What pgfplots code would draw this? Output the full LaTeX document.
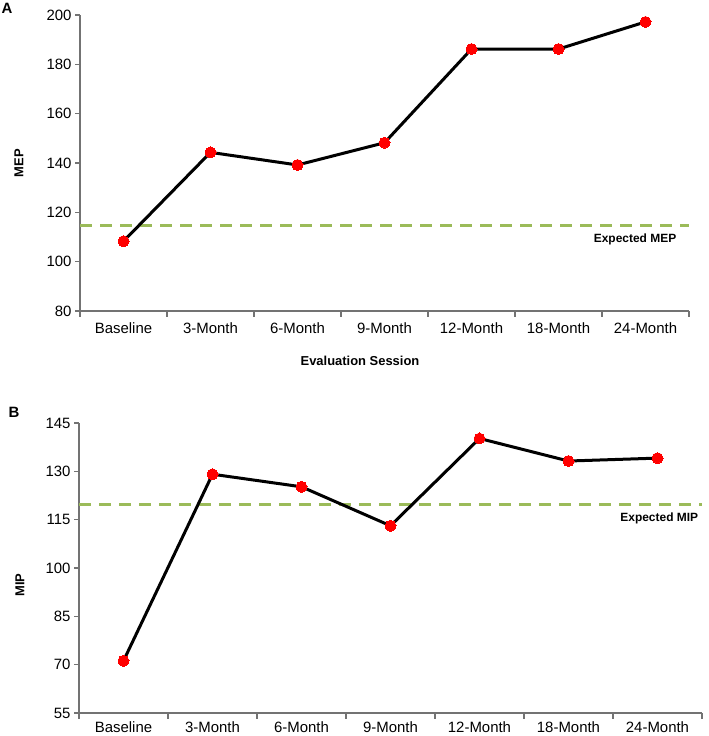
\documentclass[border=0pt]{standalone}
\usepackage{fontspec}
\setmainfont{Liberation Sans}
\usepackage{pgfplots}
\pgfplotsset{compat=1.18}
\definecolor{axgray}{rgb}{0.45,0.45,0.45}
\definecolor{expgreen}{HTML}{9BBB59}
\definecolor{ptred}{HTML}{FF0000}
\pgfplotsset{
  panel/.style={
    scale only axis,
    xmin=-0.5, xmax=6.5,
    xtick={0,...,6},
    xticklabels={Baseline,3-Month,6-Month,9-Month,12-Month,18-Month,24-Month},
    minor xtick={-0.5,0.5,...,6.5},
    axis x line*=bottom, axis y line*=left,
    axis line style={axgray, line width=1.1bp, -},
    tick style={axgray, line width=1.1bp},
    major x tick style={draw=none},
    minor tick length=6bp,
    major tick length=5bp,
    tick align=outside,
    tick label style={font=\fontsize{15}{17}\selectfont},
    /pgf/number format/assume math mode=true,
    clip=false,
  },
  dataline/.style={black, line width=3bp, mark=*, mark size=5.5bp,
    mark options={fill=ptred, draw=ptred, line width=0bp}},
  expline/.style={expgreen, line width=3bp, dash pattern=on 12bp off 8bp},
}
\begin{document}
\begin{tikzpicture}
\path[use as bounding box] (0bp,0bp) rectangle (709bp,736bp);
% Panel A
\begin{axis}[panel, at={(80bp,425bp)}, anchor=south west, width=609bp, height=296bp,
  ymin=80, ymax=200, ytick={80,100,...,200}, xticklabel style={yshift=-3bp}]
\addplot[expline] coordinates {(-0.5,114.5) (6.5,114.5)};
\addplot[dataline] coordinates {(0,108.3) (1,144.3) (2,139.2) (3,148.2) (4,186.2) (5,186.2) (6,197.2)};
\node[font=\bfseries\fontsize{12}{14}\selectfont] at (axis cs:5.88,109.2) {Expected MEP};
\end{axis}
% Panel B
\begin{axis}[panel, at={(79bp,23bp)}, anchor=south west, width=623bp, height=290bp,
  ymin=55, ymax=145, ytick={55,70,...,145}, xticklabel style={yshift=0bp}]
\addplot[expline] coordinates {(-0.5,119.6) (6.5,119.6)};
\addplot[dataline] coordinates {(0,71.2) (1,129.1) (2,125.2) (3,113.1) (4,140.2) (5,133.2) (6,134.1)};
\node[font=\bfseries\fontsize{12}{14}\selectfont] at (axis cs:6.02,115.5) {Expected MIP};
\end{axis}
% labels
\node[font=\bfseries\fontsize{15}{17}\selectfont] at (7bp,728bp) {A};
\node[font=\bfseries\fontsize{15}{17}\selectfont] at (14bp,324bp) {B};
\node[font=\bfseries\fontsize{13}{15}\selectfont, rotate=90] at (19bp,573bp) {MEP};
\node[font=\bfseries\fontsize{13}{15}\selectfont, rotate=90] at (20bp,151bp) {MIP};
\node[font=\bfseries\fontsize{13}{15}\selectfont] at (360bp,375bp) {Evaluation Session};
\end{tikzpicture}
\end{document}
